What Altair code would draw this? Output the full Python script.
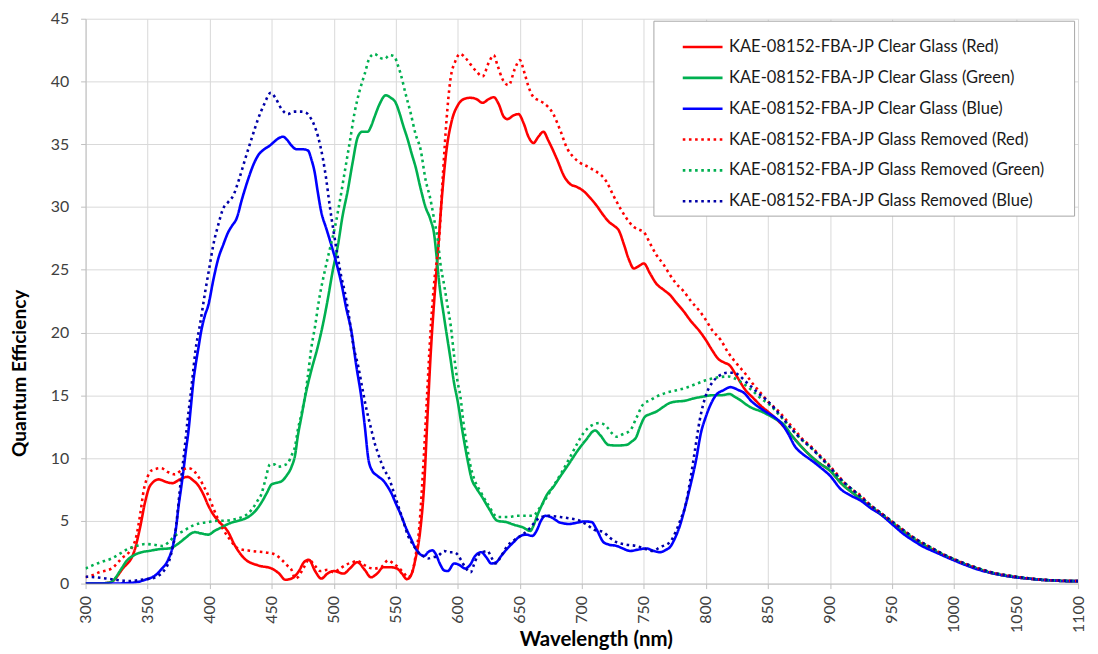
import altair as alt
import pandas as pd

SERIES_NAMES = [
    "KAE-08152-FBA-JP Clear Glass (Red)",
    "KAE-08152-FBA-JP Clear Glass (Green)",
    "KAE-08152-FBA-JP Clear Glass (Blue)",
    "KAE-08152-FBA-JP Glass Removed (Red)",
    "KAE-08152-FBA-JP Glass Removed (Green)",
    "KAE-08152-FBA-JP Glass Removed (Blue)",
]
SERIES_COLORS = ["#FF0000", "#00B050", "#0000FF", "#FF0000", "#00B050", "#0000A8"]
SERIES_DASHES = [[1, 0], [1, 0], [1, 0], [2.6, 3.6], [2.6, 3.6], [2.6, 3.6]]

X_TICKS = list(range(300, 1101, 50))
Y_TICKS = list(range(0, 46, 5))

# (wavelength nm, quantum efficiency %)
CLEAR_RED = [
    (300, 0.0), (310, 0.0), (320, 0.1), (330, 1.2), (339, 2.5), (344, 4.5), (348, 6.5), (352, 7.8),
    (359, 8.3), (365, 8.1), (370, 8.0), (376, 8.3), (382, 8.5), (387, 8.2), (391, 7.8), (395, 7.1),
    (399, 6.2), (403, 5.5), (407, 5.0), (415, 4.1), (420, 3.1), (428, 2.0), (439, 1.45), (450, 1.2),
    (456, 0.8), (461, 0.3), (466, 0.4), (472, 1.0), (476, 1.7), (480, 1.9), (485, 1.0), (490, 0.4),
    (495, 0.8), (500, 1.0), (508, 0.8), (513, 1.2), (519, 1.7), (525, 1.1), (530, 0.5), (535, 0.8),
    (540, 1.3), (546, 1.3), (551, 1.2), (555, 0.8), (559, 0.35), (562, 0.6), (566, 2.0), (569.6, 4.1),
    (573, 8.0), (575.6, 13.3), (578.3, 18.5), (581, 22.5), (584, 26.4), (587, 30.5), (591, 34.6),
    (595, 36.8), (600, 38.1), (605, 38.6), (610, 38.7), (615, 38.6), (620, 38.3), (625, 38.6),
    (629, 38.75), (633, 38.2), (637, 37.2), (640, 37.0), (645, 37.3), (649, 37.4), (653, 36.7),
    (657, 35.6), (661, 35.1), (665, 35.6), (669, 36.0), (673, 35.3), (680, 33.8), (686, 32.4),
    (691, 31.8), (696, 31.6), (701, 31.3), (707, 30.7), (712, 30.1), (717, 29.4), (722, 28.8),
    (726, 28.5), (730, 28.1), (734, 27.0), (738, 25.8), (742, 25.1), (746, 25.3), (750, 25.5),
    (755, 24.7), (760, 23.9), (766, 23.4), (771, 23.0), (776, 22.4), (782, 21.7), (788, 20.9),
    (795, 20.1), (800, 19.4), (805, 18.6), (810, 17.9), (815, 17.6), (819, 17.4), (825, 16.5),
    (832, 15.4), (838, 14.8), (845, 14.1), (850, 13.7), (860, 12.8), (870, 11.7), (880, 10.6),
    (890, 9.7), (900, 9.0), (910, 7.9), (920, 7.1), (930, 6.3), (940, 5.6), (950, 4.85), (960, 4.1),
    (970, 3.4), (980, 2.85), (990, 2.35), (1000, 1.9), (1010, 1.5), (1020, 1.15), (1030, 0.85),
    (1040, 0.65), (1050, 0.5), (1060, 0.4), (1070, 0.3), (1080, 0.25), (1090, 0.2), (1100, 0.2),
]

CLEAR_GREEN = [
    (300, 0.0), (310, 0.0), (320, 0.1), (329, 1.2), (333, 1.8), (338, 2.2), (345, 2.5), (351, 2.6),
    (360, 2.75), (367, 2.8), (375, 3.2), (380, 3.6), (388, 4.1), (393, 4.0), (399, 3.9), (404, 4.2),
    (410, 4.5), (416, 4.8), (423, 5.0), (431, 5.3), (437, 5.8), (442, 6.5), (446, 7.2), (450, 7.9),
    (455, 8.05), (458, 8.15), (462, 8.6), (466, 9.3), (469, 10.3), (471, 11.7), (474, 13.3),
    (477, 14.9), (482, 17.0), (487, 18.8), (491, 20.5), (495.5, 22.8), (499, 24.8), (503.5, 27.0),
    (507, 29.2), (511.5, 31.4), (515, 33.4), (519.5, 35.6), (523, 36.0), (527.5, 36.0), (530, 36.4),
    (533, 37.2), (537, 38.2), (542, 38.9), (546, 38.7), (550, 38.3), (553, 37.5), (556, 36.5),
    (559.6, 35.4), (563, 34.2), (566, 33.2), (570, 31.5), (574, 30.0), (578, 29.0), (581, 27.8),
    (583, 26.0), (585, 24.0), (589, 21.2), (594, 18.0), (597, 16.0), (600, 14.5), (604, 12.0),
    (608, 9.8), (611, 8.4), (615, 7.6), (619, 7.0), (625, 6.0), (632, 5.0), (639, 4.9), (645, 4.7),
    (652, 4.5), (658.6, 4.2), (661, 4.6), (664, 5.4), (668, 6.3), (672, 7.1), (677, 7.7),
    (682.7, 8.55), (690, 9.6), (696, 10.5), (703, 11.4), (710.7, 12.2), (715, 11.8), (721.5, 11.05),
    (728, 11.0), (736, 11.05), (740, 11.3), (744, 11.7), (747, 12.5), (751, 13.3), (755, 13.5),
    (760, 13.7), (766, 14.1), (771, 14.4), (776, 14.5), (782, 14.55), (790, 14.75), (798, 14.9),
    (805, 15.0), (812, 15.0), (819, 15.1), (823, 14.9), (828, 14.6), (832, 14.3), (837, 14.0),
    (845, 13.7), (851, 13.4), (858, 13.0), (862, 12.75), (870, 11.7), (880, 10.6), (890, 9.7),
    (900, 9.0), (910, 7.9), (920, 7.1), (930, 6.3), (940, 5.6), (950, 4.85), (960, 4.1), (970, 3.4),
    (980, 2.85), (990, 2.35), (1000, 1.9), (1010, 1.5), (1020, 1.15), (1030, 0.85), (1040, 0.65),
    (1050, 0.5), (1060, 0.4), (1070, 0.3), (1080, 0.25), (1090, 0.2), (1100, 0.2),
]

CLEAR_BLUE = [
    (300, 0.0), (321, 0.0), (335, 0.05), (343, 0.15), (348, 0.3), (353.6, 0.5), (358, 0.8),
    (361.6, 1.2), (365, 1.6), (367, 2.0), (369, 2.5), (371, 3.3), (373, 4.5), (375, 6.2), (377, 7.6),
    (379, 9.1), (381, 10.7), (383, 12.2), (385, 14.2), (387, 16.2), (389, 17.6), (391, 18.8),
    (393, 20.0), (396, 21.3), (399, 22.2), (403, 24.2), (407, 25.9), (411, 27.0), (415, 28.0),
    (418, 28.5), (421.8, 29.1), (426, 30.6), (431, 32.2), (435, 33.3), (439, 34.1), (444, 34.6),
    (448.6, 34.9), (452, 35.2), (456, 35.5), (459.3, 35.6), (462, 35.4), (466, 34.9), (470, 34.6),
    (475, 34.6), (479.3, 34.5), (482, 33.8), (484.7, 32.75), (487, 31.3), (490, 29.6), (494, 28.3),
    (498, 27.0), (502, 25.6), (506, 24.0), (510, 22.0), (514.6, 19.9), (518, 17.5), (522.6, 14.6),
    (525, 12.6), (528, 9.9), (531, 9.0), (535, 8.6), (540, 8.2), (543, 7.8), (546.5, 7.2),
    (550, 6.4), (554.5, 5.4), (558, 4.5), (562.4, 3.55), (566, 2.8), (569, 2.4), (573, 2.2),
    (576, 2.5), (579.6, 2.65), (582, 2.4), (586, 1.5), (589, 1.05), (592, 1.0), (597, 1.6),
    (601, 1.5), (606, 1.2), (610, 1.5), (614, 2.2), (619, 2.5), (623, 2.1), (627, 1.6), (631, 1.7),
    (635, 2.2), (640, 2.8), (645, 3.3), (650.6, 3.8), (655, 3.9), (660, 3.8), (664, 4.3), (667, 5.0),
    (670.6, 5.4), (675, 5.3), (682.7, 4.85), (690, 4.75), (696, 4.85), (702, 4.95), (708, 4.9),
    (712, 4.3), (717.5, 3.3), (722, 3.1), (728.2, 3.0), (733, 2.8), (739, 2.6), (745, 2.7),
    (752, 2.8), (758, 2.6), (763, 2.5), (768, 2.7), (771, 2.9), (775, 3.6), (779, 4.6), (783, 6.0),
    (787, 7.6), (792, 9.8), (796, 12.0), (800, 13.3), (804, 14.3), (808, 15.0), (814, 15.4),
    (820, 15.65), (826.6, 15.4), (830, 15.25), (837, 14.5), (845, 13.9), (850.5, 13.55), (856, 13.2),
    (861, 12.75), (866, 12.0), (872, 10.9), (877, 10.4), (882.5, 10.0), (888, 9.6), (893, 9.2),
    (900, 8.6), (909, 7.5), (917, 7.0), (925, 6.6), (933, 6.0), (941, 5.5), (951.6, 4.6), (960, 3.9),
    (967.5, 3.4), (975, 2.95), (985, 2.5), (1000, 1.85), (1010, 1.45), (1020, 1.1), (1030, 0.85),
    (1040, 0.65), (1050, 0.5), (1060, 0.4), (1070, 0.3), (1080, 0.25), (1090, 0.2), (1100, 0.2),
]

REMOVED_RED = [
    (300, 0.5), (305, 0.65), (311, 0.9), (321, 1.2), (329, 2.0), (337, 2.8), (341, 3.8), (344, 5.5),
    (347, 7.5), (350, 8.5), (353, 9.0), (361, 9.2), (366, 8.9), (372, 8.7), (377, 9.0), (383, 9.2),
    (388, 8.9), (391, 8.5), (395, 7.8), (399, 7.0), (403, 6.0), (407, 5.1), (411, 4.3), (415, 3.7),
    (423, 2.8), (434, 2.6), (447, 2.45), (453, 2.3), (458, 1.9), (463, 1.4), (466, 1.1), (469, 0.4),
    (471, 0.5), (476, 1.3), (480, 1.9), (485, 1.4), (489, 1.0), (495, 1.1), (500, 0.9), (505, 1.2),
    (511, 1.55), (515, 1.7), (519, 1.8), (523, 1.6), (526, 1.4), (532, 1.2), (538, 1.3), (544, 1.85),
    (548, 1.6), (552, 1.3), (556, 0.9), (560, 0.5), (563, 0.8), (566, 2.2), (569, 4.5), (572, 9.0),
    (575, 14.5), (578, 20.0), (581, 24.0), (585, 27.5), (588, 32.5), (591, 37.0), (594, 40.1),
    (598, 41.6), (602, 42.2), (606, 41.9), (610, 41.4), (615, 40.8), (620, 40.4), (625, 41.5),
    (629, 42.1), (632, 41.3), (636, 40.2), (641, 39.7), (646, 41.0), (650, 41.7), (654, 40.6),
    (657, 39.6), (660, 38.9), (665, 38.5), (669, 38.3), (677, 37.4), (683, 36.0), (688, 34.7),
    (693, 34.0), (699, 33.5), (705, 33.2), (712, 32.8), (716, 32.5), (720, 32.0), (725, 31.0),
    (731, 29.9), (736, 29.1), (742, 28.4), (746, 28.2), (750, 28.0), (755, 27.1), (760, 26.2),
    (766, 25.4), (771, 24.6), (776, 23.9), (782, 23.3), (788, 22.5), (795, 21.7), (800, 21.0),
    (805, 20.2), (812, 19.4), (818, 18.4), (825, 17.5), (832, 16.7), (838, 15.9), (845, 15.1),
    (850, 14.5), (858, 13.8), (865, 13.0), (872, 12.2), (878, 11.5), (885, 10.9), (892, 10.2),
    (898, 9.6), (905, 8.8), (912, 8.0), (918, 7.5), (925, 7.0), (932, 6.3), (940, 5.7), (950, 4.95),
    (960, 4.2), (970, 3.5), (980, 2.95), (990, 2.4), (1000, 1.95), (1010, 1.55), (1020, 1.2),
    (1030, 0.9), (1040, 0.7), (1050, 0.55), (1060, 0.42), (1070, 0.32), (1080, 0.26), (1090, 0.22),
    (1100, 0.2),
]

REMOVED_GREEN = [
    (300, 1.2), (308, 1.55), (315, 1.8), (321, 2.0), (328, 2.4), (335, 2.8), (341, 3.0), (348, 3.15),
    (355, 3.1), (362, 3.0), (367, 3.3), (372, 3.8), (379, 4.2), (386, 4.6), (392, 4.8), (399, 4.9),
    (406, 5.0), (412, 5.0), (419, 5.1), (426, 5.3), (430, 5.5), (434, 5.9), (438, 6.5), (442, 7.2),
    (445, 8.3), (448.7, 9.5), (452, 9.5), (455, 9.3), (459, 9.4), (463, 9.6), (466, 10.2), (469, 11.0),
    (471, 12.2), (474, 13.5), (477, 15.0), (479, 16.4), (482, 18.8), (485, 20.5), (488, 22.5),
    (492.8, 24.9), (497, 26.7), (500.8, 28.3), (505, 30.5), (508.8, 32.75), (513, 35.2),
    (516.8, 37.5), (521, 39.3), (525, 40.6), (529, 41.9), (533, 42.2), (537, 41.9), (541, 41.8),
    (545, 42.1), (549, 42.0), (551, 41.5), (554, 40.6), (558, 39.0), (562, 37.5), (566, 35.8),
    (570, 34.6), (574, 32.2), (578, 30.6), (581, 29.0), (584, 27.3), (586, 25.5), (589, 23.8),
    (592, 22.0), (594.4, 20.5), (597, 18.2), (600, 16.0), (602, 15.0), (605, 12.5), (607, 11.2),
    (610, 9.5), (613, 8.4), (618.5, 7.3), (625, 6.2), (632, 5.3), (640, 5.3), (648, 5.4), (655, 5.4),
    (661, 5.4), (665, 5.9), (669, 6.45), (673, 7.1), (677, 7.75), (684, 8.9), (690.7, 10.1),
    (696, 11.1), (701.4, 12.0), (708, 12.6), (714.8, 12.8), (720, 12.5), (724, 12.0), (728, 11.7),
    (733, 11.9), (739, 12.2), (744, 13.2), (749.6, 14.3), (755, 14.6), (760.3, 14.9), (768, 15.2),
    (776.3, 15.4), (784, 15.6), (792, 15.9), (800, 16.2), (808, 16.4), (818, 16.5), (826, 16.2),
    (832, 15.8), (837, 15.4), (845, 14.7), (852, 14.2), (858.5, 13.5), (865, 12.8), (872, 12.0),
    (878, 11.4), (885, 10.8), (892, 10.1), (898, 9.5), (905, 8.7), (912, 8.0), (918, 7.5),
    (925, 6.9), (932, 6.3), (940, 5.7), (950, 4.95), (960, 4.2), (970, 3.5), (980, 2.95), (990, 2.4),
    (1000, 1.95), (1010, 1.55), (1020, 1.2), (1030, 0.9), (1040, 0.7), (1050, 0.55), (1060, 0.42),
    (1070, 0.32), (1080, 0.26), (1090, 0.22), (1100, 0.2),
]

REMOVED_BLUE = [
    (300, 0.55), (308, 0.5), (321, 0.35), (335, 0.2), (348, 0.35), (355, 0.45), (359, 0.65),
    (363, 1.0), (367, 1.7), (370, 2.8), (372, 3.8), (374, 5.5), (376, 7.5), (378, 9.2), (380, 10.9),
    (382, 12.8), (384.5, 14.9), (386.5, 16.7), (388.5, 18.5), (392, 20.5), (396.5, 23.3), (400, 25.3),
    (403, 27.0), (407, 28.6), (411, 29.9), (415, 30.4), (419, 30.9), (424, 32.3), (428.6, 33.8),
    (434, 35.5), (439, 37.0), (444, 38.2), (449.3, 39.1), (453, 38.7), (458, 37.8), (463, 37.4),
    (468, 37.6), (474, 37.6), (478, 37.5), (480.7, 37.2), (484, 36.6), (487.4, 35.6), (491.4, 33.8),
    (494, 32.2), (496.8, 30.1), (500, 28.0), (503.5, 25.9), (506, 24.5), (508.8, 23.3), (512, 21.5),
    (516, 18.9), (520, 17.2), (523, 15.6), (526.6, 13.8), (530, 12.4), (533, 11.2), (536, 10.3),
    (538.5, 9.6), (541, 9.0), (544, 8.55), (548, 7.4), (552, 6.2), (556, 5.0), (560, 3.8), (564, 3.1),
    (568, 2.5), (572, 2.2), (576, 2.0), (580, 2.1), (584, 2.2), (589, 2.6), (593, 2.5), (597, 2.5),
    (600, 2.3), (602.5, 1.9), (606, 1.3), (610.5, 0.9), (613, 1.5), (616, 2.2), (620, 2.5),
    (624, 2.6), (627, 2.1), (630.5, 1.6), (635, 2.2), (640, 3.0), (646, 3.5), (653, 3.95), (658, 4.4),
    (664, 5.1), (672, 5.4), (682.7, 5.3), (690, 5.2), (698.7, 5.0), (704, 4.7), (709.5, 4.3),
    (717.5, 4.1), (722, 3.7), (728, 3.3), (736, 3.1), (744, 3.0), (750, 2.8), (757, 2.6), (763, 2.9),
    (771, 3.3), (776, 4.2), (780, 5.2), (783, 6.0), (787, 8.0), (791, 10.5), (795, 13.0),
    (800, 15.0), (805, 16.0), (810, 16.5), (818, 16.8), (823, 16.8), (826.6, 16.6), (832, 16.1),
    (837, 15.65), (843, 15.1), (848, 14.7), (855, 14.0), (861, 13.3), (866, 12.7), (872, 12.0),
    (878, 11.4), (885, 10.8), (892, 10.1), (898, 9.5), (905, 8.7), (912, 8.0), (918, 7.5), (925, 6.9),
    (932, 6.3), (940, 5.7), (950, 4.95), (960, 4.2), (970, 3.5), (980, 2.95), (990, 2.4),
    (1000, 1.95), (1010, 1.55), (1020, 1.2), (1030, 0.9), (1040, 0.7), (1050, 0.55), (1060, 0.42),
    (1070, 0.32), (1080, 0.26), (1090, 0.22), (1100, 0.2),
]

SERIES_POINTS = [CLEAR_RED, CLEAR_GREEN, CLEAR_BLUE, REMOVED_RED, REMOVED_GREEN, REMOVED_BLUE]

rows = []
for order, (name, pts) in enumerate(zip(SERIES_NAMES, SERIES_POINTS)):
    for nm, qe in pts:
        rows.append({"series": name, "order": order, "nm": nm, "qe": qe})
df = pd.DataFrame(rows)

FONT = "Lato"
LABEL_PAD = "\u2800" * 2
legend = alt.Legend(title=None, labelExpr=f"datum.label + '{LABEL_PAD}'")

chart = (
    alt.Chart(df)
    .mark_line(interpolate="monotone", strokeWidth=2.6, clip=True)
    .encode(
        x=alt.X(
            "nm:Q",
            scale=alt.Scale(domain=[300, 1100], nice=False, zero=False),
            axis=alt.Axis(
                values=X_TICKS,
                format="d",
                title="Wavelength (nm)",
                labelAngle=270,
                labelPadding=7,
                titleFontSize=20.5,
                titleX=513,
                titleY=62,
                titleBaseline="alphabetic",
                titleAlign="center",
            ),
        ),
        y=alt.Y(
            "qe:Q",
            scale=alt.Scale(domain=[0, 45], nice=False),
            axis=alt.Axis(
                values=Y_TICKS,
                title="Quantum Efficiency",
                labelPadding=12,
                titleFontSize=19.2,
                titleX=-60,
                titleY=356,
                titleAngle=270,
                titleBaseline="alphabetic",
                titleAlign="center",
            ),
        ),
        color=alt.Color(
            "series:N",
            scale=alt.Scale(domain=SERIES_NAMES, range=SERIES_COLORS),
            legend=legend,
        ),
        strokeDash=alt.StrokeDash(
            "series:N",
            scale=alt.Scale(domain=SERIES_NAMES, range=SERIES_DASHES),
            legend=legend,
        ),
        detail="order:O",
    )
    .properties(
        width=998,
        height=568,
        autosize=alt.AutoSizeParams(type="none"),
        padding={"left": 78, "top": 9, "right": 12, "bottom": 67},
        background="white",
    )
    .configure_view(strokeWidth=0)
    .configure_axis(
        grid=True,
        gridColor="#d9d9d9",
        gridWidth=1,
        domainColor="#bfbfbf",
        domainWidth=1,
        tickColor="#bfbfbf",
        tickSize=5,
        labelFont=FONT,
        labelFontSize=16,
        labelColor="#404040",
        titleFont=FONT,
        titleFontWeight="bold",
        titleColor="#000000",
    )
    .configure_legend(
        orient="none",
        legendX=571,
        legendY=2,
        padding=5,
        strokeColor="#a6a6a6",
        fillColor="white",
        labelFont=FONT,
        labelFontSize=16.6,
        labelColor="#1a1a1a",
        labelLimit=500,
        symbolType="M-1,0L1,0",
        symbolSize=1600,
        symbolStrokeWidth=2.6,
        symbolOffset=23,
        labelOffset=5,
        rowPadding=-0.8,
    )
)

chart.save("out.html", embed_options={"renderer": "svg", "actions": False})
